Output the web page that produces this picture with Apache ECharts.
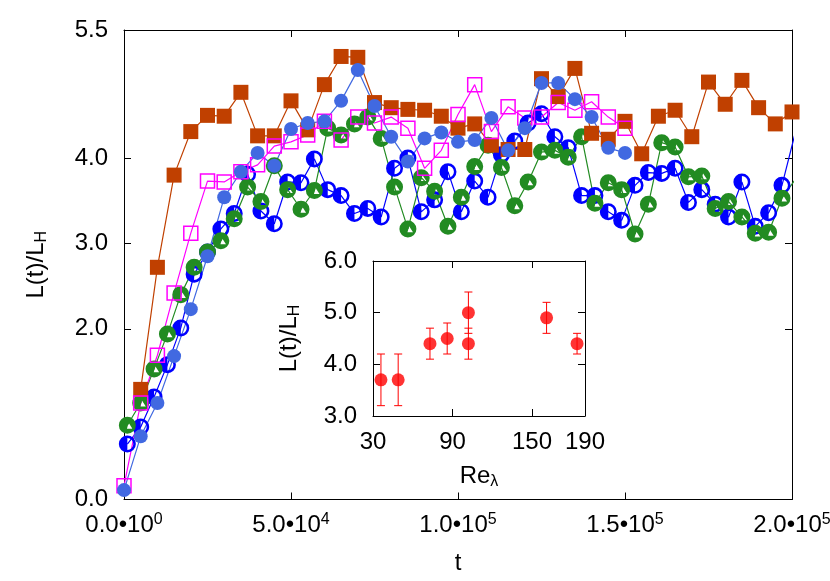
<!DOCTYPE html>
<html>
<head>
<meta charset="utf-8">
<script src="https://cdn.jsdelivr.net/npm/echarts@6/dist/echarts.min.js"></script>
<style>
html, body { margin: 0; padding: 0; background: #fff; }
#chart { width: 830px; height: 581px; }
</style>
</head>
<body>
<div id="chart"></div>
<script>
// sampling times of the runs
var tA = [0, 5000, 10000, 15000, 20000, 25000, 30000, 35000, 40000, 45000, 50000, 55000, 60000, 65000, 70000, 75000,
          80000, 85000, 90000, 95000, 100000, 105000, 110000, 115000, 120000, 125000, 130000, 135000, 140000, 145000, 150000];
var tB = [5000, 10000, 15000, 20000, 25000, 30000, 35000, 40000, 45000, 50000, 55000, 60000, 65000, 70000, 75000, 80000,
          85000, 90000, 95000, 100000, 105000, 110000, 115000, 120000, 125000, 130000, 135000, 140000, 145000, 150000,
          155000, 160000, 165000, 170000, 175000, 180000, 185000, 190000, 195000, 200000];
var tC = [1000, 5000, 9000, 13000, 17000, 21000, 25000, 29000, 33000, 37000, 41000, 45000, 49000, 53000, 57000, 61000,
          65000, 69000, 73000, 77000, 81000, 85000, 89000, 93000, 97000, 101000, 105000, 109000, 113000, 117000, 121000,
          125000, 129000, 133000, 137000, 141000, 145000, 149000, 153000, 157000, 161000, 165000, 169000, 173000, 177000,
          181000, 185000, 189000, 193000, 197000, 201000];

// L(t)/L_H
var royalL = [0.11, 0.74, 1.13, 1.68, 2.23, 2.85, 3.54, 3.84, 4.06, 3.91, 4.34, 4.41, 4.43, 4.67, 5.03, 4.61,
              4.25, 3.96, 4.23, 4.30, 4.19, 4.21, 4.47, 4.09, 4.35, 4.88, 4.88, 4.69, 4.48, 4.12, 4.06];
var magentaL = [0.16, 1.13, 1.69, 2.42, 3.12, 3.73, 3.72, 3.84, 3.92, 4.14, 4.19, 4.27, 4.43, 4.21, 4.48, 4.41,
                4.48, 4.35, 3.88, 4.09, 4.51, 4.86, 4.31, 4.60, 4.47, 4.48, 4.65, 4.56, 4.66, 4.48, 4.35];
var orangeL = [1.29, 2.72, 3.80, 4.31, 4.50, 4.49, 4.77, 4.26, 4.26, 4.67, 4.33, 4.86, 5.19, 5.18, 4.65, 4.59,
               4.57, 4.56, 4.49, 4.35, 4.40, 4.15, 4.10, 4.10, 4.93, 4.72, 5.05, 4.29, 4.22, 4.43, 4.05, 4.49,
               4.56, 4.25, 4.89, 4.63, 4.91, 4.59, 4.40, 4.54];
var blueL = [0.65, 0.85, 1.20, 1.58, 2.01, 2.64, 2.90, 3.17, 3.35, 3.81, 3.38, 3.23, 3.72, 3.71, 3.99, 3.63,
             3.56, 3.35, 3.41, 3.31, 3.88, 4.00, 3.37, 3.51, 3.84, 3.37, 3.73, 3.54, 4.04, 4.20, 4.41, 4.52,
             4.25, 4.12, 3.56, 3.56, 3.37, 3.27, 3.68, 3.83, 3.82, 3.88, 3.48, 3.63, 3.46, 3.31, 3.72, 3.20,
             3.36, 3.68, 4.30];
var greenL = [0.87, 1.13, 1.53, 1.94, 2.40, 2.72, 2.90, 3.03, 3.29, 3.66, 3.49, 3.91, 3.63, 3.40, 3.62, 4.35,
              4.27, 4.40, 4.48, 4.23, 3.66, 3.17, 3.77, 3.61, 3.20, 3.54, 3.90, 4.15, 3.89, 3.44, 3.72, 4.07,
              4.09, 4.01, 4.25, 3.47, 3.71, 3.63, 3.11, 3.46, 4.18, 4.13, 3.78, 3.79, 3.41, 3.49, 3.31, 3.12,
              3.13, 3.53, 3.75];

// inset: saturation length vs Re_lambda
var reLambda = [36, 49, 73, 86, 102, 102, 161, 184];
var lSat = [3.7, 3.7, 4.4, 4.5, 5.0, 4.4, 4.9, 4.4];
var lErr = [0.5, 0.5, 0.3, 0.3, 0.4, 0.3, 0.3, 0.2];

var yTicks = [0, 2, 3, 4, 5.5];
var insetXTicks = [30, 90, 150, 190];

var FONT = 'Liberation Sans';

// blue ring with left half filled, green disc with a small white triangle
var halfRing = 'path://M10 0A10 10 0 1 1 10 20A10 10 0 1 1 10 0ZM10 3L10 17A7 7 0 0 0 10 3Z';
var notchDisc = 'path://M10 0A10 10 0 1 1 10 20A10 10 0 1 1 10 0ZM11.5 7L9.5 14L16 14Z';

function pairs(xs, ys) {
    return xs.map(function (x, i) { return [x, ys[i]]; });
}

function sciLabel(v) {
    if (v === 0) return '{m|0.0•10}{e|0}';
    var e = Math.floor(Math.log10(v) + 1e-9);
    var m = (v / Math.pow(10, e)).toFixed(1);
    return '{m|' + m + '•10}{e|' + e + '}';
}

var supRich = {
    m: { fontSize: 24, fontFamily: FONT, color: '#000' },
    e: { fontSize: 16, fontFamily: FONT, color: '#000', padding: [0, 0, 12, 0] }
};
var subRich = {
    a: { fontSize: 24, fontFamily: FONT, color: '#000' },
    b: { fontSize: 16, fontFamily: FONT, color: '#000', padding: [12, 0, 0, 0] }
};

var lineAx = { show: true, onZero: false, lineStyle: { color: '#000', width: 1 } };
var tickIn = { show: true, inside: true, length: 7, lineStyle: { color: '#000', width: 1 } };

function lineSeries(name, xs, ys, color, symbol, size, extra) {
    var s = {
        name: name,
        type: 'line',
        xAxisIndex: 0,
        yAxisIndex: 0,
        data: pairs(xs, ys),
        symbol: symbol,
        symbolSize: size,
        showAllSymbol: true,
        lineStyle: { color: color, width: 1.2 },
        itemStyle: { color: color },
        clip: true,
        silent: true
    };
    for (var k in extra) s[k] = extra[k];
    return s;
}

var chart = echarts.init(document.getElementById('chart'));

var option = {
    animation: false,
    backgroundColor: '#fff',
    textStyle: { fontFamily: FONT },
    grid: [
        { left: 124, top: 30, width: 668, height: 469.5, outerBoundsMode: 'none', containLabel: false },
        { left: 373, top: 261, width: 212, height: 155, outerBoundsMode: 'none', containLabel: false }
    ],
    xAxis: [
        {
            type: 'value', gridIndex: 0, position: 'bottom', min: 0, max: 200000, interval: 50000,
            name: 't', nameLocation: 'middle', nameGap: 52,
            nameTextStyle: { fontSize: 24, fontFamily: FONT, color: '#000' },
            axisLine: lineAx, axisTick: tickIn, splitLine: { show: false },
            axisLabel: {
                margin: 12, formatter: sciLabel, rich: supRich,
                showMaxLabel: true, showMinLabel: true, alignMaxLabel: 'center', alignMinLabel: 'center'
            }
        },
        {
            type: 'value', gridIndex: 0, position: 'top', min: 0, max: 200000, interval: 50000,
            axisLine: lineAx, axisTick: tickIn, splitLine: { show: false }, axisLabel: { show: false }
        },
        {
            type: 'value', gridIndex: 1, position: 'bottom', min: 30, max: 190,
            name: '{a|Re}{b|λ}', nameLocation: 'middle', nameGap: 46,
            nameTextStyle: { rich: subRich },
            axisLine: lineAx, axisTick: Object.assign({}, tickIn, { customValues: insetXTicks }),
            splitLine: { show: false },
            axisLabel: { margin: 14, fontSize: 24, fontFamily: FONT, color: '#000', customValues: insetXTicks }
        },
        {
            type: 'value', gridIndex: 1, position: 'top', min: 30, max: 190,
            axisLine: lineAx, axisTick: Object.assign({}, tickIn, { customValues: insetXTicks }),
            splitLine: { show: false }, axisLabel: { show: false }
        }
    ],
    yAxis: [
        {
            type: 'value', gridIndex: 0, position: 'left', min: 0, max: 5.5,
            name: '{a|L(t)/L}{b|H}', nameLocation: 'middle', nameGap: 74, nameRotate: 90,
            nameTextStyle: { rich: subRich },
            axisLine: lineAx, axisTick: Object.assign({}, tickIn, { customValues: yTicks }),
            splitLine: { show: false },
            axisLabel: {
                margin: 16, fontSize: 24, fontFamily: FONT, color: '#000', customValues: yTicks,
                formatter: function (v) { return v.toFixed(1); }
            }
        },
        {
            type: 'value', gridIndex: 0, position: 'right', min: 0, max: 5.5,
            axisLine: lineAx, axisTick: Object.assign({}, tickIn, { customValues: yTicks }),
            splitLine: { show: false }, axisLabel: { show: false }
        },
        {
            type: 'value', gridIndex: 1, position: 'left', min: 3, max: 6, interval: 1,
            name: '{a|L(t)/L}{b|H}', nameLocation: 'middle', nameGap: 70, nameRotate: 90,
            nameTextStyle: { rich: subRich },
            axisLine: lineAx, axisTick: tickIn, splitLine: { show: false },
            axisLabel: {
                margin: 16, fontSize: 24, fontFamily: FONT, color: '#000',
                formatter: function (v) { return v.toFixed(1); }
            }
        },
        {
            type: 'value', gridIndex: 1, position: 'right', min: 3, max: 6, interval: 1,
            axisLine: lineAx, axisTick: tickIn, splitLine: { show: false }, axisLabel: { show: false }
        }
    ],
    series: [
        lineSeries('blue', tC, blueL, '#0000ff', halfRing, 17),
        lineSeries('green', tC, greenL, '#228b22', notchDisc, 17),
        lineSeries('orange', tB, orangeL, '#c04000', 'rect', 15),
        lineSeries('magenta', tA, magentaL, '#ff00ff', 'rect', 14, {
            itemStyle: { color: 'rgba(255,255,255,0)', borderColor: '#ff00ff', borderWidth: 1.5 }
        }),
        lineSeries('royal', tA, royalL, '#4169e1', 'circle', 14),
        {
            name: 'errors',
            type: 'custom',
            xAxisIndex: 2,
            yAxisIndex: 2,
            silent: true,
            encode: { x: 0, y: [1, 2] },
            data: reLambda.map(function (x, i) { return [x, lSat[i] - lErr[i], lSat[i] + lErr[i]]; }),
            renderItem: function (params, api) {
                var lo = api.coord([api.value(0), api.value(1)]);
                var hi = api.coord([api.value(0), api.value(2)]);
                var w = 4;
                var st = { stroke: '#ff0000', lineWidth: 1 };
                return {
                    type: 'group',
                    children: [
                        { type: 'line', shape: { x1: lo[0], y1: lo[1], x2: hi[0], y2: hi[1] }, style: st },
                        { type: 'line', shape: { x1: lo[0] - w, y1: lo[1], x2: lo[0] + w, y2: lo[1] }, style: st },
                        { type: 'line', shape: { x1: hi[0] - w, y1: hi[1], x2: hi[0] + w, y2: hi[1] }, style: st }
                    ]
                };
            }
        },
        {
            name: 'saturation',
            type: 'scatter',
            xAxisIndex: 2,
            yAxisIndex: 2,
            silent: true,
            data: pairs(reLambda, lSat),
            symbol: 'circle',
            symbolSize: 13,
            itemStyle: { color: '#ff0000' },
            z: 3
        }
    ]
};

chart.setOption(option);
</script>
</body>
</html>
